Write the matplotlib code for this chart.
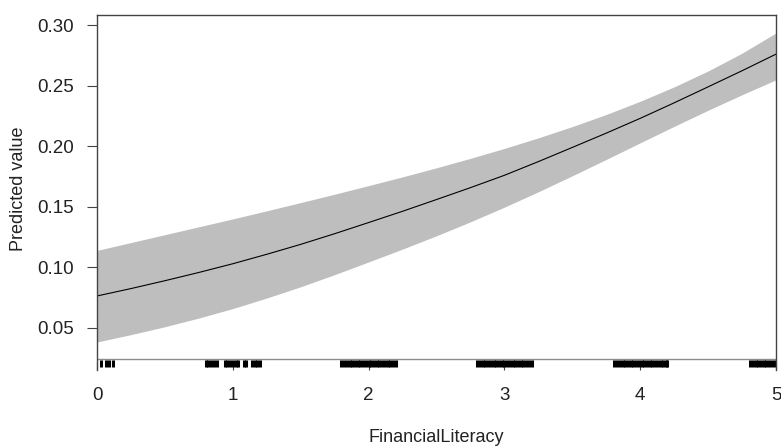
import matplotlib
matplotlib.use("Agg")
import matplotlib.pyplot as plt

plt.rcParams["font.family"] = ["Liberation Sans", "DejaVu Sans"]

# Predicted value with confidence band
literacy = [0.0, 0.25, 0.5, 0.75, 1.0, 1.25, 1.5, 1.75, 2.0, 2.25, 2.5,
            2.75, 3.0, 3.25, 3.5, 3.75, 4.0, 4.25, 4.5, 4.75, 5.0]
fit = [0.0764, 0.0825, 0.0890, 0.0958, 0.1030, 0.1108, 0.1190, 0.1278,
       0.1370, 0.1463, 0.1560, 0.1658, 0.1760, 0.1873, 0.1990, 0.2108,
       0.2230, 0.2358, 0.2490, 0.2623, 0.2760]
upper = [0.1140, 0.1205, 0.1270, 0.1335, 0.1400, 0.1467, 0.1535, 0.1604,
         0.1675, 0.1747, 0.1822, 0.1900, 0.1982, 0.2069, 0.2162, 0.2262,
         0.2371, 0.2490, 0.2621, 0.2768, 0.2935]
lower = [0.0384, 0.0445, 0.0510, 0.0582, 0.0660, 0.0747, 0.0840, 0.0940,
         0.1045, 0.1151, 0.1261, 0.1376, 0.1497, 0.1624, 0.1756, 0.1891,
         0.2028, 0.2164, 0.2297, 0.2425, 0.2548]

# observed FinancialLiteracy values for the rug
rug_x = [
    0.03, 0.065, 0.085, 0.12,
    0.80, 0.82, 0.84, 0.865, 0.88, 0.94, 0.96, 0.98, 1.00, 1.02, 1.04,
    1.08, 1.10, 1.14, 1.16, 1.18, 1.20,
    1.80, 1.82, 1.84, 1.86, 1.88, 1.90, 1.92, 1.94, 1.96, 1.98, 2.00, 2.02,
    2.04, 2.06, 2.08, 2.10, 2.12, 2.14, 2.16, 2.18, 2.20,
    2.80, 2.82, 2.84, 2.86, 2.88, 2.90, 2.92, 2.94, 2.96, 2.98, 3.00, 3.02,
    3.04, 3.06, 3.08, 3.10, 3.12, 3.14, 3.16, 3.18, 3.20,
    3.81, 3.83, 3.85, 3.87, 3.89, 3.91, 3.93, 3.95, 3.97, 3.99, 4.01, 4.03,
    4.05, 4.07, 4.09, 4.11, 4.13, 4.15, 4.17, 4.19, 4.20,
    4.81, 4.83, 4.85, 4.87, 4.89, 4.91, 4.93, 4.95, 4.97, 4.99,
]

x_ticks = [0, 1, 2, 3, 4, 5]
y_ticks = [0.05, 0.10, 0.15, 0.20, 0.25, 0.30]

TEXT = "#222222"
EDGE = "#444444"

fig = plt.figure(figsize=(7.81, 4.48), dpi=100)
ax = fig.add_axes([0.1242, 0.1741, 0.8694, 0.7924])

ax.fill_between(literacy, lower, upper, color="#bebebe", lw=0)
ax.plot(literacy, fit, color="black", lw=0.8)

y_min, y_max = 0.0153, 0.3083
rug_top = 0.0244
ax.axhline(rug_top, color="#8c8c8c", lw=1.0)
ax.vlines(rug_x, 0.0180, 0.0238, color="black", lw=2.2)

ax.set_xlim(0, 5)
ax.set_ylim(y_min, y_max)
ax.set_xticks(x_ticks)
ax.set_xticklabels([str(t) for t in x_ticks])
ax.set_yticks(y_ticks)
ax.set_yticklabels([f"{t:.2f}" for t in y_ticks])

for side in ("left", "top", "right"):
    ax.spines[side].set_color(EDGE)
    ax.spines[side].set_linewidth(1.0)
ax.spines["bottom"].set_visible(False)

ax.tick_params(axis="y", direction="out", length=7.5, width=0.8, color=EDGE,
               pad=9, labelsize=13.5, labelcolor=TEXT)
ax.tick_params(axis="x", direction="in", length=5.5, width=0.8, color=EDGE,
               pad=12, labelsize=13.5, labelcolor=TEXT)

ax.set_xlabel("FinancialLiteracy", fontsize=13, color=TEXT)
ax.xaxis.set_label_coords(0.5, -0.19)
ax.xaxis.label.set_va("center")
ax.set_ylabel("Predicted value", fontsize=13, color=TEXT)
ax.yaxis.set_label_coords(-0.1163, 0.51)
ax.yaxis.label.set_va("center")

fig.savefig("out.png", dpi=100)
